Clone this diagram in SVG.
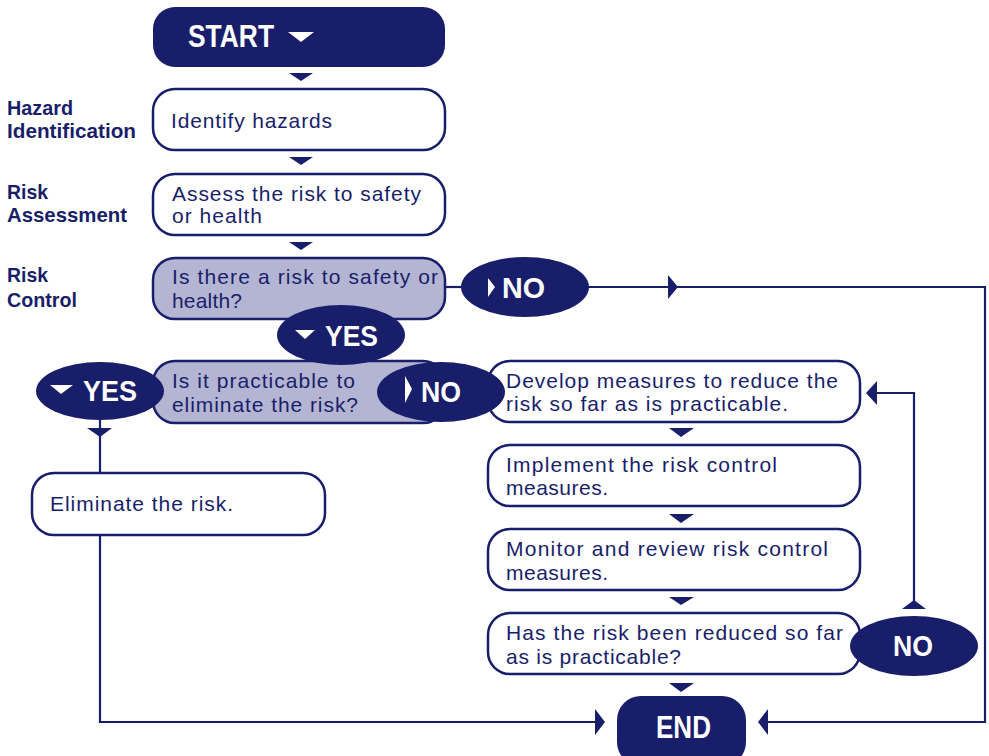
<svg xmlns="http://www.w3.org/2000/svg" width="989" height="756" viewBox="0 0 989 756">
<style>
.box{fill:#fff;stroke:#191e6a;stroke-width:2.5}
.dec{fill:#b4b5d2;stroke:#191e6a;stroke-width:2.5}
.term{fill:#191e6a}
.ell{fill:#191e6a}
.t{font-family:"Liberation Sans",Arial,sans-serif;font-size:21px;fill:#191e6a}
.lab{font-family:"Liberation Sans",Arial,sans-serif;font-size:21px;font-weight:bold;fill:#191e6a}
.w{font-family:"Liberation Sans",Arial,sans-serif;font-weight:bold;fill:#fff}
.ln{fill:none;stroke:#191e6a;stroke-width:2.2}
.ah{fill:#191e6a}
.wt{fill:#fff}
</style>
<rect width="989" height="756" fill="#fff"/>
<g id="labels">
<text class="lab" x="7" y="115" textLength="66" lengthAdjust="spacingAndGlyphs">Hazard</text>
<text class="lab" x="7" y="138" textLength="129" lengthAdjust="spacingAndGlyphs">Identification</text>
<text class="lab" x="7" y="199" textLength="41" lengthAdjust="spacingAndGlyphs">Risk</text>
<text class="lab" x="7" y="222" textLength="120" lengthAdjust="spacingAndGlyphs">Assessment</text>
<text class="lab" x="7" y="282" textLength="41" lengthAdjust="spacingAndGlyphs">Risk</text>
<text class="lab" x="7" y="307" textLength="70" lengthAdjust="spacingAndGlyphs">Control</text>
</g>
<g id="connectors">
<polygon class="ah" points="289,73 313,73 301,81"/>
<polygon class="ah" points="289,157 313,157 301,165"/>
<polygon class="ah" points="289,242 313,242 301,250"/>
<line class="ln" x1="445" y1="287" x2="462" y2="287"/>
<polyline class="ln" points="588,287 985,287 985,722 766,722"/>
<polygon class="ah" points="668,275 678,287 668,299"/>
<polygon class="ah" points="768,709 758,722 768,735"/>
<polyline class="ln" points="100,418 100,473"/>
<polygon class="ah" points="87,428 112,428 100,437"/>
<polyline class="ln" points="100,535 100,722 603,722"/>
<polygon class="ah" points="595,709 605,722 595,735"/>
<polygon class="ah" points="669,428 694,428 681,437"/>
<polygon class="ah" points="669,514 694,514 681,523"/>
<polygon class="ah" points="669,597 694,597 681,605"/>
<polygon class="ah" points="669,683 694,683 681,692"/>
<polyline class="ln" points="914,602 914,393 870,393"/>
<polygon class="ah" points="877,381 866,393 877,405"/>
<polygon class="ah" points="902,609 926,609 914,600"/>
</g>
<g id="start">
<rect class="term" x="153" y="7" width="292" height="60" rx="22"/>
<text class="w" x="188" y="47" font-size="32" textLength="86" lengthAdjust="spacingAndGlyphs">START</text>
<polygon class="wt" points="288,32 314,32 301,42"/>
</g>
<g id="identify">
<rect class="box" x="153" y="89" width="292" height="61" rx="22"/>
<text class="t" x="171" y="128" textLength="161" lengthAdjust="spacing">Identify hazards</text>
</g>
<g id="assess">
<rect class="box" x="153" y="174" width="292" height="61" rx="22"/>
<text class="t" x="172" y="201" textLength="249" lengthAdjust="spacing">Assess the risk to safety</text>
<text class="t" x="172" y="223" textLength="90" lengthAdjust="spacing">or health</text>
</g>
<g id="decision1">
<rect class="dec" x="153" y="258" width="292" height="61" rx="22"/>
<text class="t" x="172" y="284" textLength="266" lengthAdjust="spacing">Is there a risk to safety or</text>
<text class="t" x="172" y="308" textLength="70" lengthAdjust="spacing">health?</text>
</g>
<g id="decision2">
<rect class="dec" x="153" y="361" width="292" height="62" rx="22"/>
<text class="t" x="172" y="388" textLength="183" lengthAdjust="spacing">Is it practicable to</text>
<text class="t" x="172" y="412" textLength="186" lengthAdjust="spacing">eliminate the risk?</text>
</g>
<g id="eliminate">
<rect class="box" x="32" y="473" width="293" height="62" rx="22"/>
<text class="t" x="50" y="511" textLength="183" lengthAdjust="spacing">Eliminate the risk.</text>
</g>
<g id="develop">
<rect class="box" x="488" y="361" width="372" height="61" rx="22"/>
<text class="t" x="506" y="388" textLength="332" lengthAdjust="spacing">Develop measures to reduce the</text>
<text class="t" x="506" y="411" textLength="282" lengthAdjust="spacing">risk so far as is practicable.</text>
</g>
<g id="implement">
<rect class="box" x="488" y="445" width="372" height="61" rx="22"/>
<text class="t" x="506" y="472" textLength="271" lengthAdjust="spacing">Implement the risk control</text>
<text class="t" x="506" y="495" textLength="102" lengthAdjust="spacing">measures.</text>
</g>
<g id="monitor">
<rect class="box" x="488" y="529" width="372" height="61" rx="22"/>
<text class="t" x="506" y="556" textLength="322" lengthAdjust="spacing">Monitor and review risk control</text>
<text class="t" x="506" y="580" textLength="102" lengthAdjust="spacing">measures.</text>
</g>
<g id="reduced">
<rect class="box" x="488" y="613" width="372" height="61" rx="22"/>
<text class="t" x="506" y="640" textLength="337" lengthAdjust="spacing">Has the risk been reduced so far</text>
<text class="t" x="506" y="664" textLength="175" lengthAdjust="spacing">as is practicable?</text>
</g>
<g id="no1">
<ellipse class="ell" cx="525" cy="287" rx="64" ry="30"/>
<polygon class="wt" points="488,278 495,287 488,297"/>
<text class="w" x="502" y="298" font-size="30" textLength="43" lengthAdjust="spacingAndGlyphs">NO</text>
</g>
<g id="yes1">
<ellipse class="ell" cx="341" cy="335" rx="64" ry="30"/>
<polygon class="wt" points="295,330 315,330 305,339"/>
<text class="w" x="325" y="346" font-size="30" textLength="53" lengthAdjust="spacingAndGlyphs">YES</text>
</g>
<g id="yes2">
<ellipse class="ell" cx="100" cy="391" rx="64" ry="29"/>
<polygon class="wt" points="50,385 73,385 61,394"/>
<text class="w" x="83" y="401" font-size="30" textLength="54" lengthAdjust="spacingAndGlyphs">YES</text>
</g>
<g id="no2">
<ellipse class="ell" cx="441" cy="392" rx="64" ry="30"/>
<polygon class="wt" points="405,376 412,389 405,403"/>
<text class="w" x="421" y="402" font-size="30" textLength="40" lengthAdjust="spacingAndGlyphs">NO</text>
</g>
<g id="no3">
<ellipse class="ell" cx="914" cy="646" rx="64" ry="30"/>
<text class="w" x="893" y="656" font-size="30" textLength="40" lengthAdjust="spacingAndGlyphs">NO</text>
</g>
<g id="end">
<rect class="term" x="617" y="696" width="129" height="70" rx="24"/>
<text class="w" x="656" y="738" font-size="31" textLength="55" lengthAdjust="spacingAndGlyphs">END</text>
</g>
</svg>
